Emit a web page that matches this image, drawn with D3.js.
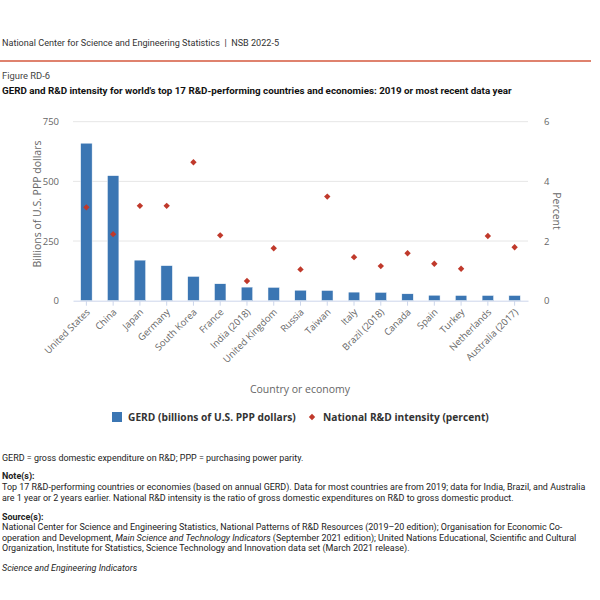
<!DOCTYPE html>
<html><head><meta charset="utf-8">
<script src="https://cdn.jsdelivr.net/npm/d3@7"></script>
<style>body{margin:0;background:#fff}svg{display:block}</style>
</head><body>
<script>
const categories = ["United States","China","Japan","Germany","South Korea","France","India (2018)","United Kingdom","Russia","Taiwan","Italy","Brazil (2018)","Canada","Spain","Turkey","Netherlands","Australia (2017)"];
const gerd = [660,524,170,147,102,71,57,56,44,43,36,35,29,23,22,22,22];
const intensity = [3.13,2.23,3.18,3.18,4.64,2.19,0.66,1.76,1.05,3.49,1.46,1.16,1.59,1.24,1.07,2.17,1.79];
const leftTicks = [0,250,500,750];
const rightTicks = [0,2,4,6];
const seriesNames = ["GERD (billions of U.S. PPP dollars)","National R&D intensity (percent)"];

const W=600,H=600;
const svg=d3.select("body").append("svg").attr("width",W).attr("height",H);
const sans="Roboto, sans-serif", os="'Open Sans', sans-serif";

// header
svg.append("text").attr("x",2).attr("y",45.5).attr("font-family",sans).attr("font-size",9.1).attr("fill","#333")
  .attr("xml:space","preserve").text("National Center for Science and Engineering Statistics  |  NSB 2022-5");
svg.append("line").attr("x1",0).attr("x2",591).attr("y1",61).attr("y2",61).attr("stroke","#d4583e").attr("stroke-width",1.5);
svg.append("text").attr("x",2).attr("y",79).attr("font-family",sans).attr("font-size",9.4).attr("fill","#444").text("Figure RD-6");
svg.append("text").attr("x",2).attr("y",94).attr("font-family",sans).attr("font-size",9.8).attr("font-weight","bold").attr("fill","#111")
  .text("GERD and R&D intensity for world's top 17 R&D-performing countries and economies: 2019 or most recent data year");

const x0=73,x1=528,yTop=121.7,yBot=300.7;
const x=d3.scaleBand().domain(categories).range([x0,x1]).paddingInner(0.57).paddingOuter(0.285);
const yL=d3.scaleLinear().domain([0,750]).range([yBot,yTop]);
const yR=d3.scaleLinear().domain([0,6]).range([yBot,yTop]);

// grid
svg.append("g").selectAll("line").data(leftTicks.filter(d=>d>0)).join("line")
  .attr("x1",x0).attr("x2",x1).attr("y1",d=>yL(d)).attr("y2",d=>yL(d)).attr("stroke","#e6e6e6");

// left axis
const gL=svg.append("g").attr("transform",`translate(${x0-11},0)`)
  .call(d3.axisLeft(yL).tickValues(leftTicks).tickSize(0).tickFormat(d3.format("d")));
gL.select(".domain").remove();
gL.selectAll("text").attr("font-family",os).attr("font-size",9.5).attr("fill","#666");
// right axis
const gR=svg.append("g").attr("transform",`translate(${x1+13},0)`)
  .call(d3.axisRight(yR).tickValues(rightTicks).tickSize(0).tickFormat(d3.format("d")));
gR.select(".domain").remove();
gR.selectAll("text").attr("font-family",os).attr("font-size",9.5).attr("fill","#666");

// bars
svg.append("g").selectAll("rect").data(categories).join("rect")
  .attr("x",d=>x(d)).attr("width",x.bandwidth())
  .attr("y",(d,i)=>yL(gerd[i])).attr("height",(d,i)=>yBot-yL(gerd[i]))
  .attr("fill","#3b76b3").attr("stroke","#fff").attr("stroke-width",0.5);

// x axis
const gX=svg.append("g").attr("transform",`translate(0,${yBot})`)
  .call(d3.axisBottom(x).tickSize(5).tickSizeOuter(0));
gX.select(".domain").attr("stroke","#ccd6eb");
gX.selectAll(".tick line").attr("stroke","#ccd6eb");
gX.selectAll("text").attr("font-family",os).attr("font-size",9.5).attr("fill","#666")
  .attr("text-anchor","end").attr("dy",null).attr("y",null)
  .attr("transform","translate(4,12) rotate(-45)");

// diamonds
const diamond=d3.symbol().type(d3.symbolDiamond2).size(26);
svg.append("g").selectAll("path").data(categories).join("path")
  .attr("transform",(d,i)=>`translate(${x(d)+x.bandwidth()/2},${yR(intensity[i])})`)
  .attr("d",diamond).attr("fill","#c0392b");

// axis titles
svg.append("text").attr("transform","translate(37,204) rotate(-90)").attr("text-anchor","middle").attr("dy","0.35em")
  .attr("font-family",os).attr("font-size",10.5).attr("fill","#666").text("Billions of U.S. PPP dollars");
svg.append("text").attr("transform","translate(557,211) rotate(90)").attr("text-anchor","middle").attr("dy","0.35em")
  .attr("font-family",os).attr("font-size",10.5).attr("fill","#666").text("Percent");
svg.append("text").attr("x",300).attr("y",389).attr("text-anchor","middle").attr("dy","0.35em")
  .attr("font-family",os).attr("font-size",10.5).attr("fill","#666").text("Country or economy");

// legend
const lg=svg.append("g");
lg.append("rect").attr("x",112).attr("y",412).attr("width",10).attr("height",10).attr("fill","#3b76b3");
lg.append("text").attr("x",128).attr("y",417).attr("dy","0.35em").attr("font-family",os).attr("font-size",10.2).attr("font-weight","bold").attr("fill","#333").text(seriesNames[0]);
lg.append("path").attr("transform","translate(312,417)").attr("d",diamond).attr("fill","#c0392b");
lg.append("text").attr("x",323).attr("y",417).attr("dy","0.35em").attr("font-family",os).attr("font-size",10.2).attr("font-weight","bold").attr("fill","#333").text(seriesNames[1]);

// footer
const fs=8.95;
function ft(y,t,opts={}){
  const e=svg.append("text").attr("x",2).attr("y",y).attr("font-family",sans).attr("font-size",fs).attr("fill","#222");
  if(opts.bold)e.attr("font-weight","bold");
  if(opts.italic)e.attr("font-style","italic");
  return e.text(t);
}
ft(460.5,"GERD = gross domestic expenditure on R&D; PPP = purchasing power parity.");
ft(479,"Note(s):",{bold:true});
ft(490,"Top 17 R&D-performing countries or economies (based on annual GERD). Data for most countries are from 2019; data for India, Brazil, and Australia");
ft(500.5,"are 1 year or 2 years earlier. National R&D intensity is the ratio of gross domestic expenditures on R&D to gross domestic product.");
ft(519.5,"Source(s):",{bold:true});
ft(530,"National Center for Science and Engineering Statistics, National Patterns of R&D Resources (2019–20 edition); Organisation for Economic Co-");
const l2=svg.append("text").attr("x",2).attr("y",540.5).attr("font-family",sans).attr("font-size",fs).attr("fill","#222");
l2.append("tspan").text("operation and Development, ");
l2.append("tspan").attr("font-style","italic").text("Main Science and Technology Indicators");
l2.append("tspan").text(" (September 2021 edition); United Nations Educational, Scientific and Cultural");
ft(551,"Organization, Institute for Statistics, Science Technology and Innovation data set (March 2021 release).");
ft(570.5,"Science and Engineering Indicators",{italic:true});
</script>
</body></html>
